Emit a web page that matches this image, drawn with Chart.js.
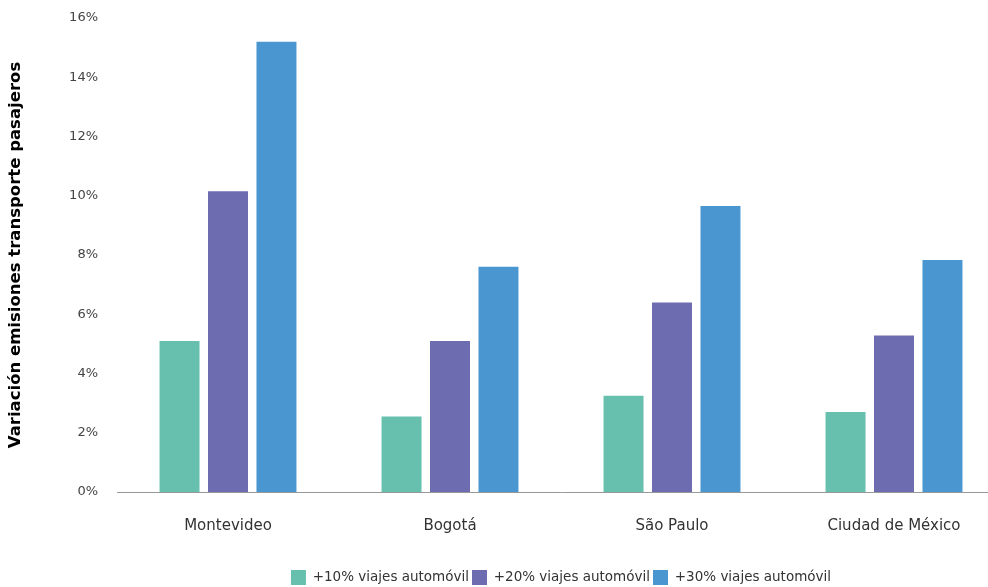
<!DOCTYPE html>
<html>
<head>
<meta charset="utf-8">
<script src="https://cdn.jsdelivr.net/npm/chart.js@4"></script>
<style>
  html, body { margin: 0; padding: 0; background: #fff; overflow: hidden; }
  #clip { width: 988px; height: 587px; overflow: hidden; position: relative; }
  #wrap { width: 1006px; height: 587px; position: absolute; left: 0; top: 0; }
</style>
</head>
<body>
<div id="clip"><div id="wrap"><canvas id="chart"></canvas></div></div>
<script>
const cities = ['Montevideo', 'Bogotá', 'São Paulo', 'Ciudad de México'];
const seriesNames = ['+10% viajes automóvil', '+20% viajes automóvil', '+30% viajes automóvil'];
const plus10 = [5.1, 2.55, 3.25, 2.7];
const plus20 = [10.15, 5.1, 6.4, 5.28];
const plus30 = [15.2, 7.6, 9.65, 7.83];
const COLORS = ['#66C0AD', '#6E6CB0', '#4A96D1'];
const FONT = 'DejaVu Sans';

const ctx = document.getElementById('chart').getContext('2d');
new Chart(ctx, {
  type: 'bar',
  data: {
    labels: cities,
    datasets: [plus10, plus20, plus30].map((d, i) => ({
      label: seriesNames[i],
      data: d,
      backgroundColor: COLORS[i],
      categoryPercentage: 0.655,
      barPercentage: 0.825
    }))
  },
  options: {
    responsive: true,
    maintainAspectRatio: false,
    animation: false,
    layout: { padding: { top: 0, right: 1, bottom: -8, left: 0 } },
    plugins: {
      legend: {
        position: 'bottom',
        fullSize: false,
        labels: { font: { family: FONT, size: 13.5 }, color: '#333', boxWidth: 15, boxHeight: 15, padding: 3 }
      },
      tooltip: { enabled: false }
    },
    scales: {
      x: {
        afterFit: s => { s.height += 15; },
        grid: { display: false },
        border: { display: true, color: '#999', width: 1 },
        ticks: { font: { family: FONT, size: 15 }, color: '#333', padding: 17 }
      },
      y: {
        min: 0, max: 16,
        afterFit: s => { s.width = 117; s.paddingTop = 18; },
        grid: { display: false, drawTicks: false },
        border: { display: false },
        ticks: { stepSize: 2, callback: v => v + '%', font: { family: FONT, size: 13 }, color: '#444', padding: 19 },
        title: {
          display: true,
          text: 'Variación emisiones transporte pasajeros',
          font: { family: FONT, size: 16.5, weight: 'bold' },
          color: '#000',
          padding: { top: 6, bottom: 0 }
        }
      }
    }
  }
});
</script>
</body>
</html>
